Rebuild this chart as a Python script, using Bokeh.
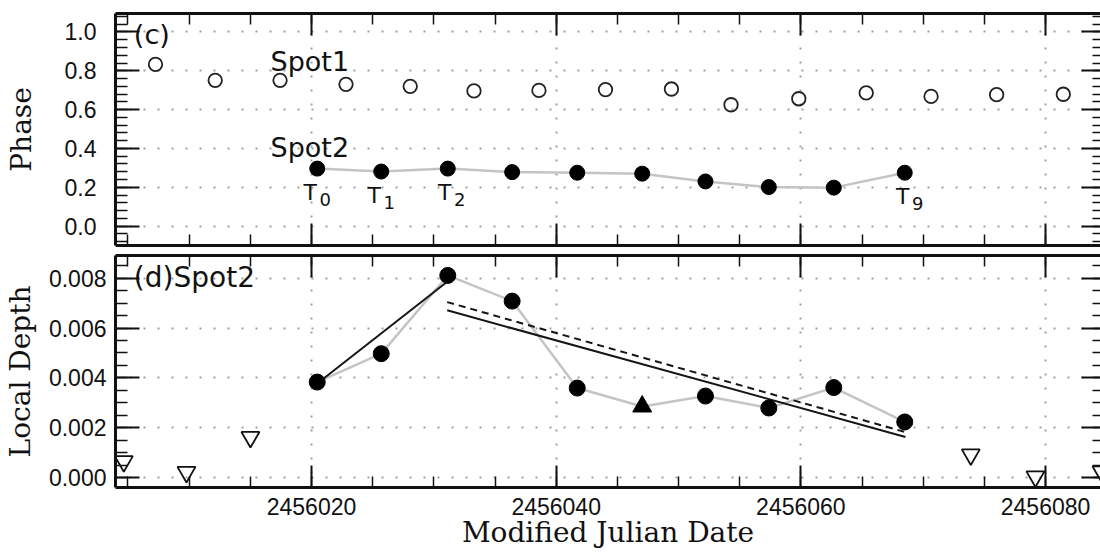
from bokeh.plotting import figure
from bokeh.layouts import column
from bokeh.models import (ColumnDataSource, LinearAxis, SingleIntervalTicker,
                          NumeralTickFormatter, BasicTickFormatter, Range1d,
                          CustomJSTickFormatter)
from bokeh.core.properties import value
from bokeh.embed import file_html
from bokeh.resources import INLINE

# ---------------- data ----------------
spot1_mjd = [2456007.25, 2456012.13, 2456017.43, 2456022.82, 2456028.07,
             2456033.28, 2456038.59, 2456044.03, 2456049.42, 2456054.29,
             2456059.83, 2456065.34, 2456070.64, 2456076.00, 2456081.45]
spot1_phase = [0.833, 0.751, 0.751, 0.730, 0.720, 0.696, 0.699, 0.703,
               0.706, 0.625, 0.656, 0.686, 0.668, 0.677, 0.679]

epoch_mjd = [2456020.47, 2456025.70, 2456031.14, 2456036.40, 2456041.72,
             2456047.03, 2456052.20, 2456057.38, 2456062.69, 2456068.49]
spot2_phase = [0.296, 0.281, 0.296, 0.278, 0.275, 0.270, 0.230, 0.201,
               0.198, 0.275]
spot2_depth = [0.00383, 0.00497, 0.00811, 0.00708, 0.00359, 0.00285,
               0.00327, 0.00279, 0.00361, 0.00223]
depth_kind = ["detection"] * 5 + ["marginal"] + ["detection"] * 4

upper_mjd = [2456004.66, 2456009.78, 2456015.01, 2456073.89, 2456079.17,
             2456084.57]
upper_depth = [0.00065, 0.00022, 0.00162, 0.00092, 0.00004, 0.00024]

rise_fit_mjd = [2456020.47, 2456031.22]
rise_fit_depth = [0.00377, 0.00791]
decay_fit_mjd = [2456031.09, 2456068.55]
decay_fit_depth = [0.00671, 0.00163]
decay_fit2_mjd = [2456031.09, 2456068.49]
decay_fit2_depth = [0.00704, 0.00183]

epoch_tag_index = [0, 1, 2, 9]
epoch_tag_sub = ["0", "1", "2", "9"]

mjd_major_step = 20
phase_major_step = 0.2
depth_major_step = 0.002

# ---------------- layout / style constants ----------------
X_START, X_END = 2456003.98, 2456084.49
PHASE_RANGE = (-0.1, 1.095)
DEPTH_RANGE = (-0.0004, 0.00891)
INK = "#111111"
TICK_FONT = "Liberation Sans"
TEXT_FONT = "DejaVu Sans"
LABEL_FONT = "DejaVu Serif"
tag_dx = [-7, -7, -3, -2]


def base_fig(yr, border_top, border_bottom):
    p = figure(frame_width=985, frame_height=232,
               x_range=Range1d(X_START, X_END), y_range=Range1d(*yr),
               min_border_left=115, min_border_right=0,
               min_border_top=border_top, min_border_bottom=border_bottom,
               output_backend="svg", toolbar_location=None, tools="",
               outline_line_color=None, background_fill_color="white",
               border_fill_color="white")
    return p


def style_axis(ax, ticker, major_in, minor_in, labels, fmt=None, line=True,
               standoff=5):
    ax.ticker = ticker
    ax.major_tick_in = major_in
    ax.major_tick_out = 0
    ax.minor_tick_in = minor_in
    ax.minor_tick_out = 0
    ax.major_tick_line_width = 2
    ax.minor_tick_line_width = 1.5
    ax.major_tick_line_color = INK
    ax.minor_tick_line_color = INK
    if line:
        ax.axis_line_width = 3
        ax.axis_line_color = INK
    else:
        ax.axis_line_color = None
    if labels:
        ax.formatter = fmt
        ax.major_label_text_font = TICK_FONT
        ax.major_label_text_font_size = "23px"
        ax.major_label_text_color = INK
        ax.major_label_standoff = standoff
    else:
        ax.formatter = CustomJSTickFormatter(code="return ''")
        ax.major_label_text_font_size = "0px"
        ax.major_label_standoff = 0


def x_ticker():
    return SingleIntervalTicker(interval=mjd_major_step, num_minor_ticks=4)


def style_label(ax, text, size, standoff):
    ax.axis_label = text
    ax.axis_label_text_font = LABEL_FONT
    ax.axis_label_text_font_size = size
    ax.axis_label_text_font_style = "normal"
    ax.axis_label_text_color = INK
    ax.axis_label_standoff = standoff


def style_grid(p):
    for g in (p.xgrid, p.ygrid):
        g.grid_line_color = "#a0a0a0"
        g.grid_line_dash = "2 12"
        g.grid_line_width = 2


# ---------------- top panel: phase ----------------
p1 = base_fig(PHASE_RANGE, 13, 5)
ph_t = SingleIntervalTicker(interval=phase_major_step, num_minor_ticks=5)
style_axis(p1.xaxis[0], x_ticker(), 22, 11, False)
style_axis(p1.yaxis[0], ph_t, 24, 12, True, NumeralTickFormatter(format="0.0"),
           standoff=19)
style_label(p1.yaxis[0], "Phase", "28px", 24)
top1 = LinearAxis()
style_axis(top1, x_ticker(), 22, 11, False)
p1.add_layout(top1, "above")
right1 = LinearAxis()
style_axis(right1, SingleIntervalTicker(interval=phase_major_step, num_minor_ticks=5),
           19, 8, False, line=False)
p1.add_layout(right1, "right")
p1.xgrid.ticker = p1.xaxis[0].ticker
p1.ygrid.ticker = ph_t
style_grid(p1)

p1.line(epoch_mjd, spot2_phase, line_color="#c4c4c4", line_width=2.5)
p1.scatter(spot1_mjd, spot1_phase, marker="circle", size=13.5,
           fill_color=None, line_color="#222222", line_width=1.8)
p1.scatter(epoch_mjd, spot2_phase, marker="circle", size=15,
           fill_color="black", line_color="black")

p1.text(x=[2456005.48], y=[0.985], text=["(c)"], text_font=value(TEXT_FONT),
        text_font_size=value("27px"), text_color=INK,
        text_baseline="alphabetic", text_align="left")
p1.text(x=[2456016.65, 2456016.65], y=[0.848, 0.405], text=["Spot1", "Spot2"],
        text_font=value(TEXT_FONT), text_font_size=value("27px"),
        text_color=INK, text_baseline="alphabetic", text_align="left")

tag_src = ColumnDataSource(dict(
    x=[epoch_mjd[i] for i in epoch_tag_index],
    y=[spot2_phase[i] for i in epoch_tag_index],
    t=["T"] * len(epoch_tag_index),
    s=epoch_tag_sub,
    dx=tag_dx,
    dxs=[d + 9.3 for d in tag_dx],
))
p1.text(x="x", y="y", text="t", source=tag_src, x_offset="dx", y_offset=24,
        text_font=value(TEXT_FONT), text_font_size=value("22px"),
        text_color=INK, text_align="center", text_baseline="alphabetic")
p1.text(x="x", y="y", text="s", source=tag_src, x_offset="dxs", y_offset=31,
        text_font=value(TEXT_FONT), text_font_size=value("18px"),
        text_color=INK, text_align="left", text_baseline="alphabetic")

# ---------------- bottom panel: local depth ----------------
p2 = base_fig(DEPTH_RANGE, 5, 67)
dp_t = SingleIntervalTicker(interval=depth_major_step, num_minor_ticks=4)
style_axis(p2.xaxis[0], x_ticker(), 22, 11, True,
           BasicTickFormatter(use_scientific=False), standoff=10)
style_label(p2.xaxis[0], "Modified Julian Date", "28px", -2)
style_axis(p2.yaxis[0], dp_t, 24, 12, True,
           NumeralTickFormatter(format="0.000"), standoff=9)
style_label(p2.yaxis[0], "Local Depth", "28px", 9)
top2 = LinearAxis()
style_axis(top2, x_ticker(), 22, 11, False)
p2.add_layout(top2, "above")
right2 = LinearAxis()
style_axis(right2, SingleIntervalTicker(interval=depth_major_step, num_minor_ticks=4),
           19, 8, False, line=False)
p2.add_layout(right2, "right")
p2.xgrid.ticker = p2.xaxis[0].ticker
p2.ygrid.ticker = dp_t
style_grid(p2)

p2.line(epoch_mjd, spot2_depth, line_color="#c4c4c4", line_width=2.5)
p2.line(rise_fit_mjd, rise_fit_depth, line_color="#151515", line_width=2)
p2.line(decay_fit_mjd, decay_fit_depth, line_color="#151515", line_width=2)
p2.line(decay_fit2_mjd, decay_fit2_depth, line_color="#151515", line_width=2,
        line_dash="7 5")

det_x = [m for m, k in zip(epoch_mjd, depth_kind) if k == "detection"]
det_y = [d for d, k in zip(spot2_depth, depth_kind) if k == "detection"]
mar_x = [m for m, k in zip(epoch_mjd, depth_kind) if k == "marginal"]
mar_y = [d for d, k in zip(spot2_depth, depth_kind) if k == "marginal"]
p2.scatter(det_x, det_y, marker="circle", size=16, fill_color="black",
           line_color="black")
p2.scatter(mar_x, mar_y, marker="triangle", size=19, fill_color="black",
           line_color="black")
p2.scatter(upper_mjd, upper_depth, marker="inverted_triangle", size=18,
           fill_color=None, line_color="#111111", line_width=1.8)

p2.text(x=[2456005.48], y=[0.00803], text=["(d)Spot2"],
        text_font=value(TEXT_FONT), text_font_size=value("28px"),
        text_color=INK, text_baseline="alphabetic", text_align="left")

layout = column(p1, p2, spacing=0)
open("out.html", "w").write(file_html(layout, INLINE))
